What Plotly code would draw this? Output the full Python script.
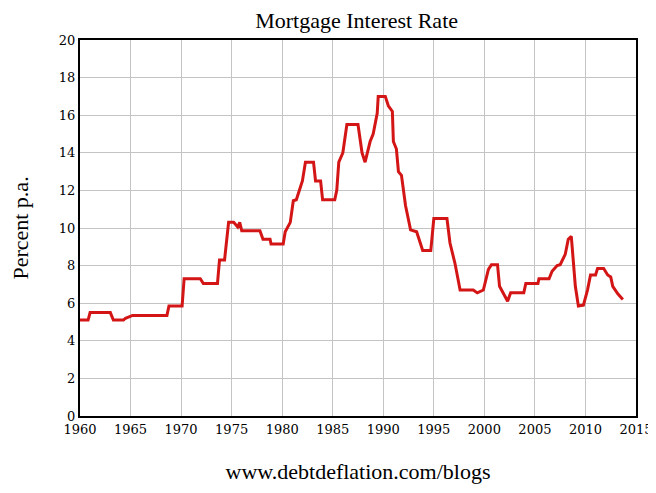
import plotly.graph_objects as go

years = [1960, 1960.8, 1961, 1963, 1963.3, 1964.3, 1964.5, 1965.2, 1968.6, 1968.8, 1970.1, 1970.3,
         1971.9, 1972.2, 1973.6, 1973.8, 1974.3, 1974.7, 1975.2, 1975.6, 1975.8, 1976, 1977.8,
         1978.1, 1978.8, 1978.9, 1980.1, 1980.3, 1980.8, 1981.1, 1981.4, 1982, 1982.3, 1983.1,
         1983.3, 1983.8, 1984.0, 1985.2, 1985.4, 1985.6, 1986, 1986.4, 1987.5, 1987.9, 1988.2,
         1988.7, 1989, 1989.4, 1989.5, 1990.2, 1990.5, 1990.9, 1991.0, 1991.3, 1991.5, 1991.8,
         1992.2, 1992.7, 1993.3, 1993.5, 1993.9, 1994.7, 1995, 1996.3, 1996.6, 1997.1, 1997.6,
         1998.9, 1999.3, 1999.9, 2000.4, 2000.7, 2001.3, 2001.5, 2001.9, 2002.3, 2002.6, 2003.9,
         2004.1, 2005.3, 2005.4, 2006.4, 2006.7, 2007.2, 2007.5, 2008.0, 2008.3, 2008.6, 2009.0,
         2009.3, 2009.8, 2010.2, 2010.5, 2011, 2011.2, 2011.8, 2012.2, 2012.5, 2012.7, 2013.2, 2013.7]
rate = [5.1, 5.1, 5.5, 5.5, 5.1, 5.1, 5.2, 5.35, 5.35, 5.85, 5.85, 7.3,
        7.3, 7.05, 7.05, 8.3, 8.3, 10.3, 10.3, 10.05, 10.3, 9.85, 9.85,
        9.4, 9.4, 9.15, 9.15, 9.8, 10.3, 11.45, 11.5, 12.5, 13.5, 13.5,
        12.5, 12.5, 11.5, 11.5, 12.0, 13.5, 14.0, 15.5, 15.5, 14.0, 13.5,
        14.6, 15.0, 16.1, 17.0, 17.0, 16.5, 16.2, 14.6, 14.2, 13.0, 12.8,
        11.2, 9.9, 9.8, 9.5, 8.8, 8.8, 10.5, 10.5, 9.2, 8.1, 6.7,
        6.7, 6.55, 6.7, 7.8, 8.05, 8.05, 6.9, 6.5, 6.1, 6.55, 6.55,
        7.05, 7.05, 7.3, 7.3, 7.7, 8.0, 8.05, 8.6, 9.4, 9.55, 6.9,
        5.85, 5.9, 6.7, 7.5, 7.5, 7.85, 7.85, 7.5, 7.4, 6.9, 6.5, 6.2]
x_ticks = [1960, 1965, 1970, 1975, 1980, 1985, 1990, 1995, 2000, 2005, 2010, 2015]

serif = "Liberation Serif"
tick_font = dict(family="DejaVu Serif", size=13)

fig = go.Figure(go.Scatter(x=years, y=rate, mode="lines",
                           line=dict(color="#d41515", width=3), showlegend=False))

# the page has an 8px body margin, so the figure is shifted by 8px
fig.update_layout(
    width=648, height=485, plot_bgcolor="white", paper_bgcolor="white",
    margin=dict(l=72, r=20, t=32, b=77, autoexpand=False),
    font=dict(family=serif, color="black", size=15),
    title=dict(text="Mortgage Interest Rate", x=0.538, xanchor="center", y=0.99, yanchor="top",
               font=dict(family=serif, size=22)),
)
fig.update_xaxes(range=[1960, 2015], tickvals=x_ticks, ticktext=[str(t) for t in x_ticks],
                 showgrid=True, gridcolor="#c4c4c4",
                 showline=True, linecolor="black", linewidth=2, mirror=True, ticks="",
                 automargin=False, tickfont=tick_font,
                 title=dict(text="www.debtdeflation.com/blogs", font=dict(family=serif, size=22), standoff=28))
fig.update_yaxes(range=[0, 20], dtick=2, showgrid=True, gridcolor="#c4c4c4",
                 showline=True, linecolor="black", linewidth=2, mirror=True, ticks="",
                 automargin=False, tickfont=tick_font,
                 title=dict(text="Percent p.a.", font=dict(family=serif, size=22), standoff=32))

fig.write_html("out.html")
